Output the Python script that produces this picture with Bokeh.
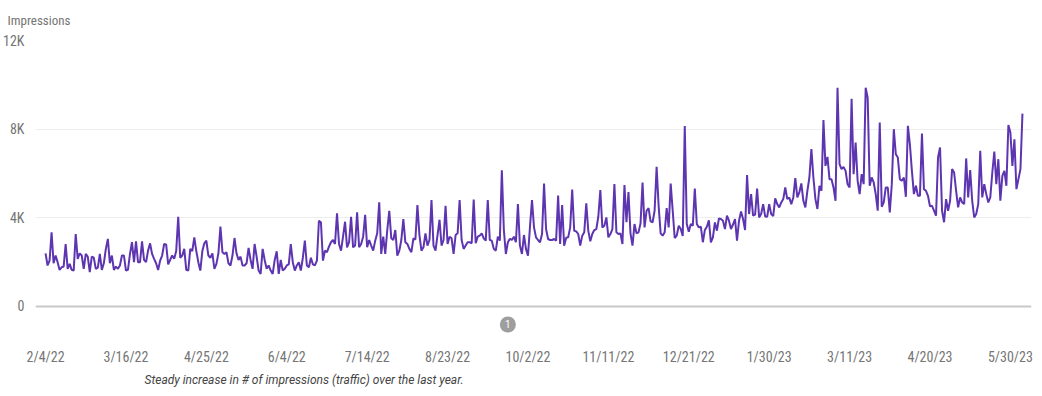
import pandas as pd
from bokeh.plotting import figure
from bokeh.models import Range1d, FixedTicker, Span, Title, ColumnDataSource
from bokeh.core.properties import value
from bokeh.embed import file_html
from bokeh.resources import INLINE

# ---- data -------------------------------------------------------------
start_date = "2022-02-04"

impressions_feb_jun_2022 = [
    2400, 1850, 2070, 3350, 1950, 2300, 2000,
    1650, 1770, 1800, 2820, 1700, 1920, 1650,
    1620, 3270, 2150, 2400, 2300, 1700, 2370,
    2250, 1550, 2250, 2200, 1700, 1750, 2370,
    1650, 1950, 2600, 3050, 1950, 2300, 1650,
    1800, 1700, 1850, 2300, 2300, 1620, 1650,
    2370, 2900, 2000, 2940, 2000, 2000, 2940,
    2100, 2000, 2520, 2850, 2370, 2150, 1950,
    1650, 2070, 2300, 2820, 2800, 1900, 2100,
    2300, 2150, 2500, 4050, 2200, 2300, 2600,
    1650, 1620, 2600, 2500, 3120, 2500, 2000,
    1620, 2500, 2850, 2970, 2300, 2200, 2400,
    1700, 1920, 2400, 3600, 2450, 2370, 2450,
    1950, 1850, 2300, 3090, 2400, 2100, 2250,
    1850, 1850, 1950, 2640, 2100, 1700, 2820,
    2250, 1620, 1470, 2600, 2100, 1700, 1850,
    1620, 1470, 2100, 2490, 1470, 2100, 1620,
]

impressions_jun_oct_2022 = [
    1700, 1850, 1900, 2820, 2000, 1620, 1850,
    2000, 1620, 2200, 2970, 1850, 1770, 2200,
    1900, 1850, 2070, 3870, 3800, 2070, 2520,
    2450, 2700, 2900, 3000, 2820, 4200, 2820,
    2520, 3150, 3825, 2670, 2900, 4050, 2670,
    2750, 4245, 2670, 2820, 3150, 4140, 2670,
    3000, 2750, 2520, 2970, 3300, 4700, 2370,
    3150, 2370, 3450, 4320, 3075, 3000, 3450,
    2295, 2520, 3000, 3945, 2900, 2820, 2600,
    2450, 3075, 3020, 4575, 3225, 2520, 2670,
    3300, 2750, 3000, 4800, 2750, 2520, 3225,
    3915, 2750, 3000, 4545, 2820, 3150, 3075,
    2370, 3225, 3300, 4800, 3000, 2600, 2750,
    2900, 2900, 2850, 4830, 2850, 3150, 3200,
    3300, 3075, 2970, 4800, 3000, 2970, 2600,
    2520, 3150, 2970, 6150, 3450, 2370, 2900,
    3050, 3000, 3150, 2900, 4620, 2750, 2370,
    3225, 2600, 2295, 3600, 4800,
]

impressions_oct_2022_feb_2023 = [
    3570, 3120, 3000, 2895, 3270, 5550, 3495,
    3045, 3000, 3000, 3045, 2970, 5000, 2820, 4575,
    2745, 3100, 3120, 3570, 5280, 3420, 3390, 3270, 2745,
    3195, 3345, 4650, 3420, 2940, 3270, 3450,
    3495, 4050, 5250, 3570, 3645, 4020, 3120,
    3270, 3495, 5520, 3345, 3270, 3300, 2820,
    5475, 3800, 5160, 3300, 2745, 3720, 3300,
    3345, 3750, 5595, 3570, 4320, 4440, 3840,
    3800, 4320, 6300, 4545, 3300, 3195, 3345,
    4440, 3570, 5550, 4320, 3090, 3195, 3645,
    3495, 3180, 8145, 3720, 3375, 3720, 3645,
    5325, 3720, 3570, 3600, 2900, 3450, 3600,
    3885, 2895, 3120, 3795, 3420, 3975, 3945,
    3870, 3495, 4095, 3870, 3495, 3700,
    3945, 2970, 3870, 4290, 3945, 3450, 5930,
    4170, 5070, 4095, 4140, 5325, 4020, 4170,
    4620, 4065, 4050, 4620, 4170, 4080, 4875, 4620,
]

impressions_feb_jun_2023 = [
    4470, 4695, 4845, 5370, 4845, 4920, 4620,
    4920, 5790, 4920, 5145, 5550, 4770, 4470,
    5220, 5820, 7100, 5820, 4845, 4400, 5445,
    5220, 8415, 6345, 6750, 5745, 5745, 5370,
    4770, 9870, 6420, 6195, 6300, 6120, 5520,
    5370, 9375, 5970, 7400, 5670, 5070, 5970,
    5520, 9870, 9420, 5445, 5820, 5595, 5070,
    4320, 8300, 4500, 4695, 5370, 5370, 4245, 5520,
    8000, 6870, 6720, 5745, 5670, 5820, 4950,
    8150, 7320, 6120, 5070, 5445, 4995, 4995,
    7800, 5295, 5220, 4995, 4515, 4545, 4320,
    4095, 6720, 7170, 4320, 3800, 4845, 4320,
    4770, 6200, 6045, 5220, 4470, 4920, 4695,
    4620, 6680, 4920, 6150, 4770, 4020, 4170,
    4620, 7020, 4920, 5520, 5070, 4695, 4920,
    6045, 6990, 5520, 6645, 4770, 5895, 6120,
    5445, 8190, 7845, 6345, 7545, 5295, 5745, 6195, 8700,
]

x_tick_dates = ["2022-02-04", "2022-03-16", "2022-04-25", "2022-06-04",
                "2022-07-14", "2022-08-23", "2022-10-02", "2022-11-11",
                "2022-12-21", "2023-01-30", "2023-03-11", "2023-04-20",
                "2023-05-30"]
x_tick_labels = ["2/4/22", "3/16/22", "4/25/22", "6/4/22", "7/14/22",
                 "8/23/22", "10/2/22", "11/11/22", "12/21/22", "1/30/23",
                 "3/11/23", "4/20/23", "5/30/23"]

y_ticks = [0, 4000, 8000, 12000]
y_tick_labels = ["0", "4K", "8K", "12K"]

annotation_dates = ["2022-09-22"]
annotation_labels = ["1"]

title_text = "Impressions"
caption_text = "Steady increase in # of impressions (traffic) over the last year."

# ---- build --------------------------------------------------------------
impressions = (impressions_feb_jun_2022 + impressions_jun_oct_2022
               + impressions_oct_2022_feb_2023 + impressions_feb_jun_2023)
dates = pd.date_range(start_date, periods=len(impressions), freq="D")
src = ColumnDataSource(dict(date=dates, impressions=impressions))

FONT = "Liberation Sans Narrow, Roboto Condensed, Roboto"
GRAY = "#757575"

p = figure(
    x_axis_type="datetime",
    frame_width=996, frame_height=300,
    min_border_left=28, min_border_right=2,
    min_border_top=40, min_border_bottom=40,
    output_backend="svg", toolbar_location=None,
    x_range=Range1d(pd.Timestamp("2022-01-30"), pd.Timestamp("2023-06-09 12:00")),
    y_range=Range1d(-1534, 12000),
)
p.outline_line_color = None
p.background_fill_color = "white"
p.border_fill_color = "white"

# title
t = Title(text=title_text, align="left", offset=-28, standoff=22,
          vertical_align="top",
          text_font=FONT, text_font_size="13px", text_font_style="normal",
          text_color=GRAY)
p.add_layout(t, "above")

# caption
cap = Title(text=caption_text, align="left", offset=109, standoff=6,
            text_font="Roboto", text_font_size="12px", text_font_style="italic",
            text_color="#444444")
p.add_layout(cap, "below")

# axes
tick_ms = [pd.Timestamp(d).timestamp() * 1000.0 for d in x_tick_dates]
p.xaxis.ticker = FixedTicker(ticks=tick_ms)
p.xaxis.major_label_overrides = {ms: lab for ms, lab in zip(tick_ms, x_tick_labels)}
p.xaxis.axis_line_color = None
p.xaxis.major_tick_line_color = None
p.xaxis.minor_tick_line_color = None
p.xaxis.major_label_standoff = 2
p.xaxis.major_label_text_font = FONT
p.xaxis.major_label_text_font_size = "14px"
p.xaxis.major_label_text_color = GRAY

p.yaxis.ticker = FixedTicker(ticks=y_ticks)
p.yaxis.major_label_overrides = {t_: lab for t_, lab in zip(y_ticks, y_tick_labels)}
p.yaxis.axis_line_color = None
p.yaxis.major_tick_line_color = None
p.yaxis.minor_tick_line_color = None
p.yaxis.major_label_standoff = 5
p.yaxis.major_label_text_font = FONT
p.yaxis.major_label_text_font_size = "14px"
p.yaxis.major_label_text_color = GRAY

p.xgrid.grid_line_color = None
p.ygrid.ticker = FixedTicker(ticks=[v for v in y_ticks if v > 0])
p.ygrid.grid_line_color = "#eeeeee"
p.ygrid.grid_line_width = 1

p.add_layout(Span(location=0, dimension="width", line_color="#c8c8c8", line_width=2))

p.line("date", "impressions", source=src, line_color="#5e35b1", line_width=2)

# annotation marker
ann = ColumnDataSource(dict(date=pd.to_datetime(annotation_dates),
                            y=[-812] * len(annotation_dates),
                            label=annotation_labels))
p.scatter("date", "y", source=ann, size=16, marker="circle",
          fill_color="#9e9e9e", line_color=None)
p.text("date", "y", text="label", source=ann, text_color="white",
       text_font=value("Roboto"), text_font_size="10px",
       text_align="center", text_baseline="middle")

open("out.html", "w").write(file_html(p, INLINE))
